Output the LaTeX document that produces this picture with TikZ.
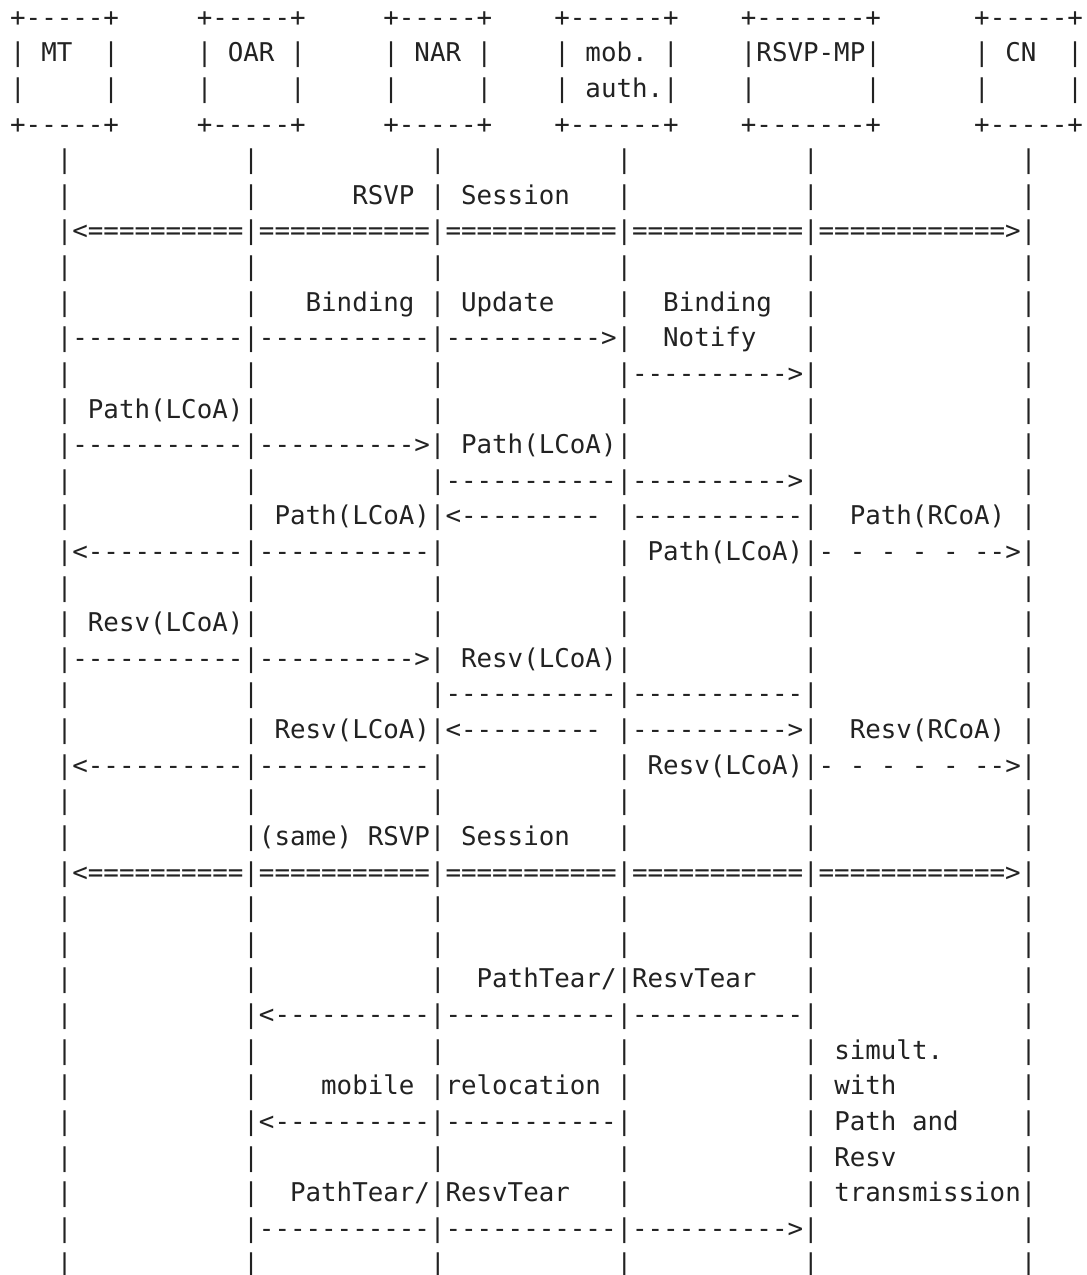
\documentclass[tikz,border=0pt]{standalone}
\usepackage{fontspec}
\setmonofont{DejaVu Sans Mono}
\definecolor{txtc}{HTML}{222222}
\tikzset{
  asc/.style={font=\ttfamily\fontsize{12.913pt}{17.81pt}\selectfont, inner sep=0pt, outer sep=0pt, anchor=base west, text=txtc}
}
\newcommand\asciirow[2]{\node[asc] (r#1) at (5.1pt,{-13.1pt-17.81pt*#1}) {#2};}
\begin{document}
\begin{tikzpicture}
\fill[white] (0,0) rectangle (543.5pt,-637.5pt);
\useasboundingbox (0,0) rectangle (543.5pt,-637.5pt);
\asciirow{0}{+-----+~~~~~+-----+~~~~~+-----+~~~~+------+~~~~+-------+~~~~~~+-----+}
\asciirow{1}{|~MT~~|~~~~~|~OAR~|~~~~~|~NAR~|~~~~|~mob.~|~~~~|RSVP-MP|~~~~~~|~CN~~|}
\asciirow{2}{|~~~~~|~~~~~|~~~~~|~~~~~|~~~~~|~~~~|~auth.|~~~~|~~~~~~~|~~~~~~|~~~~~|}
\asciirow{3}{+-----+~~~~~+-----+~~~~~+-----+~~~~+------+~~~~+-------+~~~~~~+-----+}
\asciirow{4}{~~~|~~~~~~~~~~~|~~~~~~~~~~~|~~~~~~~~~~~|~~~~~~~~~~~|~~~~~~~~~~~~~|}
\asciirow{5}{~~~|~~~~~~~~~~~|~~~~~~RSVP~|~Session~~~|~~~~~~~~~~~|~~~~~~~~~~~~~|}
\asciirow{6}{~~~|<==========|===========|===========|===========|============>|}
\asciirow{7}{~~~|~~~~~~~~~~~|~~~~~~~~~~~|~~~~~~~~~~~|~~~~~~~~~~~|~~~~~~~~~~~~~|}
\asciirow{8}{~~~|~~~~~~~~~~~|~~~Binding~|~Update~~~~|~~Binding~~|~~~~~~~~~~~~~|}
\asciirow{9}{~~~|-----------|-----------|---------->|~~Notify~~~|~~~~~~~~~~~~~|}
\asciirow{10}{~~~|~~~~~~~~~~~|~~~~~~~~~~~|~~~~~~~~~~~|---------->|~~~~~~~~~~~~~|}
\asciirow{11}{~~~|~Path(LCoA)|~~~~~~~~~~~|~~~~~~~~~~~|~~~~~~~~~~~|~~~~~~~~~~~~~|}
\asciirow{12}{~~~|-----------|---------->|~Path(LCoA)|~~~~~~~~~~~|~~~~~~~~~~~~~|}
\asciirow{13}{~~~|~~~~~~~~~~~|~~~~~~~~~~~|-----------|---------->|~~~~~~~~~~~~~|}
\asciirow{14}{~~~|~~~~~~~~~~~|~Path(LCoA)|<---------~|-----------|~~Path(RCoA)~|}
\asciirow{15}{~~~|<----------|-----------|~~~~~~~~~~~|~Path(LCoA)|-~-~-~-~-~-->|}
\asciirow{16}{~~~|~~~~~~~~~~~|~~~~~~~~~~~|~~~~~~~~~~~|~~~~~~~~~~~|~~~~~~~~~~~~~|}
\asciirow{17}{~~~|~Resv(LCoA)|~~~~~~~~~~~|~~~~~~~~~~~|~~~~~~~~~~~|~~~~~~~~~~~~~|}
\asciirow{18}{~~~|-----------|---------->|~Resv(LCoA)|~~~~~~~~~~~|~~~~~~~~~~~~~|}
\asciirow{19}{~~~|~~~~~~~~~~~|~~~~~~~~~~~|-----------|-----------|~~~~~~~~~~~~~|}
\asciirow{20}{~~~|~~~~~~~~~~~|~Resv(LCoA)|<---------~|---------->|~~Resv(RCoA)~|}
\asciirow{21}{~~~|<----------|-----------|~~~~~~~~~~~|~Resv(LCoA)|-~-~-~-~-~-->|}
\asciirow{22}{~~~|~~~~~~~~~~~|~~~~~~~~~~~|~~~~~~~~~~~|~~~~~~~~~~~|~~~~~~~~~~~~~|}
\asciirow{23}{~~~|~~~~~~~~~~~|(same)~RSVP|~Session~~~|~~~~~~~~~~~|~~~~~~~~~~~~~|}
\asciirow{24}{~~~|<==========|===========|===========|===========|============>|}
\asciirow{25}{~~~|~~~~~~~~~~~|~~~~~~~~~~~|~~~~~~~~~~~|~~~~~~~~~~~|~~~~~~~~~~~~~|}
\asciirow{26}{~~~|~~~~~~~~~~~|~~~~~~~~~~~|~~~~~~~~~~~|~~~~~~~~~~~|~~~~~~~~~~~~~|}
\asciirow{27}{~~~|~~~~~~~~~~~|~~~~~~~~~~~|~~PathTear/|ResvTear~~~|~~~~~~~~~~~~~|}
\asciirow{28}{~~~|~~~~~~~~~~~|<----------|-----------|-----------|~~~~~~~~~~~~~|}
\asciirow{29}{~~~|~~~~~~~~~~~|~~~~~~~~~~~|~~~~~~~~~~~|~~~~~~~~~~~|~simult.~~~~~|}
\asciirow{30}{~~~|~~~~~~~~~~~|~~~~mobile~|relocation~|~~~~~~~~~~~|~with~~~~~~~~|}
\asciirow{31}{~~~|~~~~~~~~~~~|<----------|-----------|~~~~~~~~~~~|~Path~and~~~~|}
\asciirow{32}{~~~|~~~~~~~~~~~|~~~~~~~~~~~|~~~~~~~~~~~|~~~~~~~~~~~|~Resv~~~~~~~~|}
\asciirow{33}{~~~|~~~~~~~~~~~|~~PathTear/|ResvTear~~~|~~~~~~~~~~~|~transmission|}
\asciirow{34}{~~~|~~~~~~~~~~~|-----------|-----------|---------->|~~~~~~~~~~~~~|}
\asciirow{35}{~~~|~~~~~~~~~~~|~~~~~~~~~~~|~~~~~~~~~~~|~~~~~~~~~~~|~~~~~~~~~~~~~|}
\end{tikzpicture}
\end{document}
